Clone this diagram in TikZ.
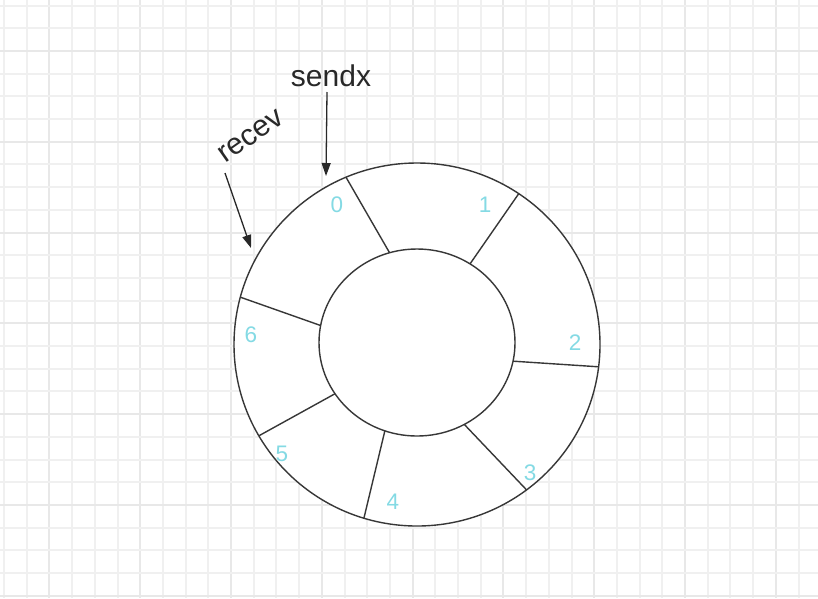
\documentclass[tikz,border=0pt]{standalone}
\usepackage{fontspec}
\setmainfont{Liberation Sans}
\usetikzlibrary{arrows.meta,shapes.geometric}

\definecolor{gridminor}{RGB}{240,240,240}
\definecolor{gridmajor}{RGB}{232,232,232}
\definecolor{linegray}{RGB}{55,55,55}
\definecolor{txtgray}{RGB}{40,40,40}
\definecolor{idxcyan}{RGB}{132,218,228}

\begin{document}
\begin{tikzpicture}[
  x=1pt, y=-1pt,
  ring/.style={ellipse, draw=linegray, line width=1.4pt,
               inner sep=0pt, outer sep=0pt},
  spoke/.style={draw=linegray, line width=1.4pt},
  idx/.style={font=\fontsize{22.5}{22.5}\selectfont, text=idxcyan, inner sep=0pt},
  ptr/.style={font=\fontsize{30}{30}\selectfont, text=txtgray, inner sep=0pt},
  arr/.style={-{Triangle[length=13pt,width=9pt]}, line width=1.3pt, draw=txtgray}
]

\fill[white] (0,0) rectangle (818,598);
\useasboundingbox (0,0) rectangle (818,598);

% grid
\foreach \i in {0,...,36}{
  \pgfmathtruncatemacro{\m}{mod(\i,4)}
  \ifnum\m=2 \def\gc{gridmajor}\else\def\gc{gridminor}\fi
  \draw[\gc, line width=2pt] ({4+22.7*\i},0) -- ({4+22.7*\i},598);
}
\foreach \j in {0,...,26}{
  \pgfmathtruncatemacro{\m}{mod(\j,4)}
  \ifnum\m=2 \def\gc{gridmajor}\else\def\gc{gridminor}\fi
  \draw[\gc, line width=2pt] (0,{5.5+22.7*\j}) -- (818,{5.5+22.7*\j});
}

% ring buffer
\node[ring, fill=white, minimum width=366pt, minimum height=363pt] (outer) at (417,344.5) {};
\node[ring, minimum width=196pt, minimum height=187pt] (inner) at (417,342.5) {};

\draw[spoke] (inner.107)   -- (outer.113.3);
\draw[spoke] (inner.56.3)  -- (outer.56);
\draw[spoke] (inner.-11.7) -- (outer.-7.1);
\draw[spoke] (inner.-60.6) -- (outer.-53.7);
\draw[spoke] (inner.250.6) -- (outer.253.4);
\draw[spoke] (inner.212.2) -- (outer.210.6);
\draw[spoke] (inner.170.8) -- (outer.165.3);

\node[idx] (s0) at (337,205) {0};
\node[idx] (s1) at (485,205) {1};
\node[idx] (s2) at (575,343) {2};
\node[idx] (s3) at (530,473) {3};
\node[idx] (s4) at (393,502) {4};
\node[idx] (s5) at (282,454) {5};
\node[idx] (s6) at (251,335) {6};

% pointers
\node[ptr] (sendx) at (331,76) {sendx};
\node[ptr, rotate=35] (recev) at (251,136) {recev};

\coordinate (sendfrom) at (327,92);
\coordinate (sendto)   at (326,176);
\coordinate (recvfrom) at (225,173);
\coordinate (recvto)   at (251,248);

\draw[arr] (sendfrom) -- (sendto);
\draw[arr] (recvfrom) -- (recvto);

\end{tikzpicture}
\end{document}
